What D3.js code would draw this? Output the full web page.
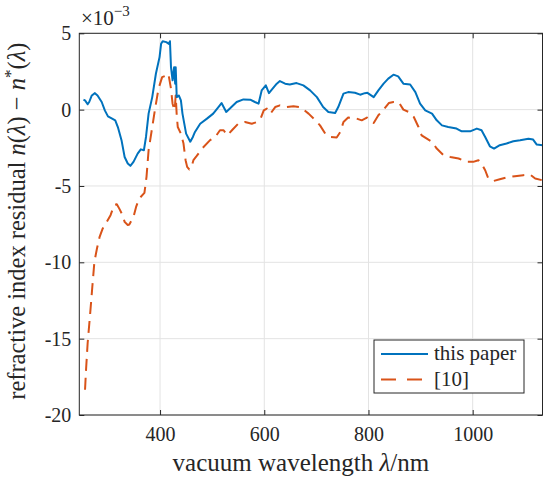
<!DOCTYPE html>
<html>
<head>
<meta charset="utf-8">
<script src="https://cdn.jsdelivr.net/npm/d3@7"></script>
<style>
    body { margin: 0; background: #fff; }
    svg text { font-family: "Liberation Serif", "DejaVu Serif", serif; fill: #262626; }
</style>
</head>
<body>
<div id="chart"></div>
<script>
// x values in nm, y values in units of 1e-3
var paperWl = [253, 256, 261, 264, 269, 275, 280, 288, 294, 300, 308, 314, 319, 326, 332, 338, 343, 349, 357, 363, 369, 373, 378, 385, 392, 399, 402, 405, 412, 417, 419, 421, 424, 427, 429, 430, 432, 436, 440, 443, 450, 458, 463, 467, 477, 490, 502, 512, 518, 527, 534, 547, 560, 573, 582, 589, 595, 603, 609, 616, 624, 630, 640, 649, 662, 675, 688, 701, 713, 723, 736, 742, 752, 761, 774, 784, 793, 798, 810, 819, 829, 838, 848, 857, 867, 880, 890, 899, 909, 922, 931, 941, 953, 969, 979, 995, 1008, 1017, 1024, 1033, 1041, 1052, 1065, 1078, 1091, 1107, 1116, 1123, 1134];
var paperRes = [0.65, 0.61, 0.35, 0.5, 0.93, 1.08, 0.93, 0.5, -0.05, -0.44, -0.59, -0.7, -1.14, -2.0, -3.1, -3.53, -3.68, -3.42, -2.88, -2.6, -2.66, -1.79, -0.26, 0.82, 2.35, 3.44, 4.31, 4.48, 4.42, 4.31, 4.48, 2.78, 1.92, 2.78, 1.7, 2.78, 0.82, 0.93, 0.61, -0.26, -1.57, -2.1, -1.79, -1.46, -0.92, -0.59, -0.26, 0.17, 0.43, -0.15, 0.07, 0.5, 0.67, 0.65, 0.5, 0.39, 1.26, 1.59, 1.08, 1.37, 1.7, 1.87, 1.7, 1.65, 1.74, 1.59, 1.26, 0.82, 0.17, -0.15, -0.22, 0.17, 1.05, 1.15, 1.11, 0.98, 1.08, 1.1, 0.82, 1.26, 1.7, 2.03, 2.29, 2.18, 1.7, 1.65, 1.15, 0.39, -0.05, -0.26, -0.7, -1.03, -1.14, -1.24, -1.42, -1.42, -1.24, -1.35, -1.79, -2.4, -2.55, -2.33, -2.22, -2.07, -2.0, -1.9, -1.96, -2.29, -2.33];

var refWl = [256, 258, 261, 266, 270, 274, 279, 284, 290, 296, 305, 312, 317, 322, 328, 332, 338, 341, 349, 354, 360, 370, 374, 378, 385, 391, 397, 404, 412, 416, 421, 424, 428, 430, 432, 434, 440, 445, 449, 452, 456, 460, 464, 470, 482, 496, 506, 515, 522, 529, 538, 550, 563, 576, 586, 593, 599, 605, 612, 621, 630, 643, 656, 669, 685, 698, 707, 717, 726, 739, 746, 752, 761, 774, 787, 797, 810, 819, 829, 839, 848, 858, 867, 877, 887, 896, 902, 912, 922, 931, 944, 957, 973, 989, 1001, 1011, 1017, 1024, 1030, 1040, 1052, 1065, 1081, 1097, 1110, 1120, 1133];
var refRes = [-18.35, -17.0, -15.3, -13.3, -11.6, -9.96, -9.08, -8.33, -7.78, -7.45, -6.91, -6.25, -6.19, -6.5, -6.91, -7.35, -7.56, -7.52, -7.02, -6.37, -5.82, -5.45, -4.4, -2.66, -1.14, 0.17, 1.37, 2.13, 2.24, 2.35, 1.37, 0.39, -0.05, 0.93, -0.37, -1.14, -1.57, -2.22, -3.31, -3.75, -3.92, -3.8, -3.31, -3.05, -2.5, -2.0, -1.79, -1.35, -1.35, -1.68, -1.35, -0.92, -0.81, -0.92, -0.81, -0.59, -0.05, 0.07, -0.26, 0.17, 0.28, 0.17, 0.22, 0.17, -0.26, -0.7, -1.03, -1.57, -1.79, -1.83, -1.46, -0.81, -0.52, -0.55, -0.7, -0.52, -0.87, -0.37, 0.0, 0.43, 0.5, 0.5, 0.0, -0.15, -0.48, -1.14, -1.68, -1.9, -2.11, -2.55, -2.99, -3.1, -3.2, -3.42, -3.42, -3.31, -3.53, -3.97, -4.51, -4.67, -4.56, -4.44, -4.36, -4.29, -4.25, -4.51, -4.62];

var xTicks = [400, 600, 800, 1000];
var yTicks = [5, 0, -5, -10, -15, -20];
var seriesNames = ["this paper", "[10]"];

var width = 543, height = 481;
var margin = { top: 33.3, right: 0.5, bottom: 66, left: 79.3 };

var svg = d3.select("#chart").append("svg")
    .attr("width", width)
    .attr("height", height);

var x = d3.scaleLinear()
    .domain([245, 1134])
    .range([margin.left, width - margin.right]);

var y = d3.scaleLinear()
    .domain([-20, 5])
    .range([height - margin.bottom, margin.top]);

var pLeft = margin.left, pRight = width - margin.right,
    pTop = margin.top, pBottom = height - margin.bottom;

// grid
var grid = svg.append("g").attr("stroke", "#e3e3e3").attr("stroke-width", 1);
grid.selectAll(".gx").data(xTicks).enter().append("line")
    .attr("x1", function(d) { return x(d); })
    .attr("x2", function(d) { return x(d); })
    .attr("y1", pTop).attr("y2", pBottom);
grid.selectAll(".gy").data(yTicks).enter().append("line")
    .attr("x1", pLeft).attr("x2", pRight)
    .attr("y1", function(d) { return y(d); })
    .attr("y2", function(d) { return y(d); });

// lines
svg.append("defs").append("clipPath").attr("id", "clip")
    .append("rect").attr("x", pLeft).attr("y", pTop)
    .attr("width", pRight - pLeft).attr("height", pBottom - pTop);

var line = d3.line()
    .x(function(d) { return x(d[0]); })
    .y(function(d) { return y(d[1]); });

var paperPts = paperWl.map(function(w, i) { return [w, paperRes[i]]; });
var refPts = refWl.map(function(w, i) { return [w, refRes[i]]; });

var plot = svg.append("g").attr("clip-path", "url(#clip)");
plot.append("path")
    .datum(refPts)
    .attr("d", line)
    .attr("fill", "none")
    .attr("stroke", "#D95319")
    .attr("stroke-width", 2)
    .attr("stroke-dasharray", "12,7")
    .attr("stroke-linejoin", "round");
plot.append("path")
    .datum(paperPts)
    .attr("d", line)
    .attr("fill", "none")
    .attr("stroke", "#0072BD")
    .attr("stroke-width", 2)
    .attr("stroke-linejoin", "round");

// axes (box with inward ticks)
var fmt = function(d) { return String(d); };
var xAxisB = d3.axisBottom(x).tickValues(xTicks).tickSize(-5).tickPadding(12).tickFormat(fmt);
var xAxisT = d3.axisTop(x).tickValues(xTicks).tickSize(-5).tickFormat("");
var yAxisL = d3.axisLeft(y).tickValues(yTicks).tickSize(-5).tickPadding(8).tickFormat(fmt);
var yAxisR = d3.axisRight(y).tickValues(yTicks).tickSize(-5).tickFormat("");

function styleAxis(g) {
    g.select(".domain").remove();
    g.selectAll(".tick line").attr("stroke", "#262626");
    g.selectAll(".tick text").style("font-family", "'Liberation Serif', serif")
        .style("font-size", "20px").attr("fill", "#262626");
}

svg.append("g").attr("transform", "translate(0," + pBottom + ")").call(xAxisB).call(styleAxis);
svg.append("g").attr("transform", "translate(0," + pTop + ")").call(xAxisT).call(styleAxis);
svg.append("g").attr("transform", "translate(" + pLeft + ",0)").call(yAxisL).call(styleAxis);
svg.append("g").attr("transform", "translate(" + pRight + ",0)").call(yAxisR).call(styleAxis);

svg.append("rect")
    .attr("x", pLeft).attr("y", pTop)
    .attr("width", pRight - pLeft).attr("height", pBottom - pTop)
    .attr("fill", "none").attr("stroke", "#262626").attr("stroke-width", 1);

// exponent label
var expo = svg.append("text").attr("x", 81).attr("y", 25).style("font-size", "21px");
expo.append("tspan").text("×10");
expo.append("tspan").attr("dy", -9).style("font-size", "15px").text("−3");

// axis labels
var xl = svg.append("text")
    .attr("x", (pLeft + pRight) / 2 - 10)
    .attr("y", 471)
    .attr("text-anchor", "middle")
    .style("font-size", "25px");
xl.append("tspan").text("vacuum wavelength ");
xl.append("tspan").style("font-style", "italic").text("λ");
xl.append("tspan").text("/nm");

var yl = svg.append("text")
    .attr("transform", "translate(25," + ((pTop + pBottom) / 2 - 3) + ") rotate(-90)")
    .attr("text-anchor", "middle")
    .style("font-size", "24.5px");
yl.append("tspan").text("refractive index residual ");
yl.append("tspan").style("font-style", "italic").text("n");
yl.append("tspan").text("(");
yl.append("tspan").style("font-style", "italic").text("λ");
yl.append("tspan").text(") − ");
yl.append("tspan").style("font-style", "italic").text("n");
yl.append("tspan").attr("dy", -9).style("font-size", "17px").text("*");
yl.append("tspan").attr("dy", 9).text("(");
yl.append("tspan").style("font-style", "italic").text("λ");
yl.append("tspan").text(")");

// legend
var legend = svg.append("g").attr("transform", "translate(374,340)");
legend.append("rect")
    .attr("width", 150).attr("height", 53)
    .attr("fill", "#fff").attr("stroke", "#262626").attr("stroke-width", 1);

var legendColors = ["#0072BD", "#D95319"];
var legendDash = [null, "15,11"];
var item = legend.selectAll(".item").data(seriesNames).enter().append("g")
    .attr("transform", function(d, i) { return "translate(0," + (14 + i * 25.5) + ")"; });
item.append("line")
    .attr("x1", 7).attr("x2", 54)
    .attr("stroke", function(d, i) { return legendColors[i]; })
    .attr("stroke-width", 2)
    .attr("stroke-dasharray", function(d, i) { return legendDash[i]; });
item.append("text")
    .attr("x", 60).attr("y", 6)
    .style("font-size", "21px")
    .text(function(d) { return d; });
</script>
</body>
</html>
